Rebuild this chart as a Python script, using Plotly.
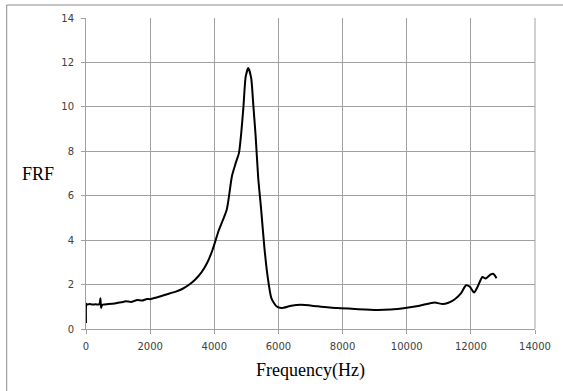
import plotly.graph_objects as go

# Measured frequency response function (magnitude) versus frequency
freq_hz = [0, 10, 40, 100, 200, 300, 400, 430, 450, 470, 490, 530, 700, 900, 1100,
           1240, 1400, 1600, 1750, 1900, 2000, 2200, 2500, 2800, 3000, 3200, 3400,
           3600, 3780, 3950, 4130, 4390, 4550, 4670, 4770, 4840, 4910, 4980, 5060,
           5150, 5220, 5290, 5370, 5460, 5560, 5660, 5780, 5940, 6090, 6400, 6700,
           7230, 7850, 8400, 9060, 9500, 10000, 10400, 10870, 11120, 11300, 11490,
           11690, 11850, 11970, 12100, 12210, 12360, 12460, 12620, 12690, 12740, 12800]
frf = [0.27, 1.14, 1.10, 1.12, 1.10, 1.11, 1.10, 1.18, 1.38, 0.95, 1.05, 1.10, 1.12,
       1.15, 1.20, 1.25, 1.22, 1.30, 1.28, 1.35, 1.34, 1.42, 1.55, 1.68, 1.80, 1.98,
       2.22, 2.55, 2.98, 3.58, 4.40, 5.38, 6.88, 7.48, 7.93, 8.82, 10.02, 11.37,
       11.75, 11.30, 10.02, 8.67, 6.80, 5.40, 3.70, 2.40, 1.39, 1.02, 0.94, 1.05,
       1.09, 1.02, 0.94, 0.90, 0.86, 0.88, 0.96, 1.05, 1.19, 1.12, 1.18, 1.33, 1.60,
       1.97, 1.90, 1.64, 1.90, 2.34, 2.27, 2.46, 2.49, 2.42, 2.28]

x_ticks = [0, 2000, 4000, 6000, 8000, 10000, 12000, 14000]
y_ticks = [0, 2, 4, 6, 8, 10, 12, 14]

fig = go.Figure()
fig.add_trace(go.Scatter(
    x=freq_hz, y=frf, mode="lines",
    line=dict(color="black", width=2, shape="spline", smoothing=0.6),
    hoverinfo="skip", showlegend=False,
))

grid = "#a0a0a0"
tick_font = dict(family="DejaVu Sans", size=10, color="#404040")
title_font = dict(family="Liberation Serif", size=18, color="black")

fig.update_layout(
    width=563, height=391,
    margin=dict(l=86, r=24, t=18, b=62),
    paper_bgcolor="white", plot_bgcolor="white",
    xaxis=dict(
        range=[0, 14000], tickvals=x_ticks, ticktext=[str(v) for v in x_ticks],
        showgrid=True, gridcolor=grid, gridwidth=1,
        showline=True, linecolor=grid, linewidth=1, mirror=False,
        ticks="outside", ticklen=4, tickcolor=grid, ticklabelstandoff=4,
        tickfont=tick_font, zeroline=False,
        title=dict(text="Frequency(Hz)", font=title_font, standoff=12),
    ),
    yaxis=dict(
        range=[0, 14], tickvals=y_ticks, ticktext=[str(v) for v in y_ticks],
        showgrid=True, gridcolor=grid, gridwidth=1,
        showline=True, linecolor=grid, linewidth=1,
        ticks="outside", ticklen=4, tickcolor=grid, ticklabelstandoff=5,
        tickfont=tick_font, zeroline=False, title=None,
    ),
)

# Vertical axis label, set horizontally beside the axis
fig.add_annotation(
    text="FRF", xref="paper", yref="paper",
    x=(38 - 86) / 453, y=(329 - 174) / 311,
    showarrow=False, font=title_font, xanchor="center", yanchor="middle",
)

# Frame around the chart (left and top edges)
pw, ph = 453, 311
fx0 = (6 - 86) / pw
fy_top = (329 - 5) / ph
fy_bot = (329 - 395) / ph
fx_right = (570 - 86) / pw
fig.add_shape(type="line", xref="paper", yref="paper",
              x0=fx0, x1=fx0, y0=fy_bot, y1=fy_top,
              line=dict(color="#8c8c8c", width=1))
fig.add_shape(type="line", xref="paper", yref="paper",
              x0=fx0, x1=fx_right, y0=fy_top, y1=fy_top,
              line=dict(color="#8c8c8c", width=1))
# Right gridline edge of the plot area
fig.add_shape(type="line", xref="paper", yref="paper",
              x0=1, x1=1, y0=0, y1=1, line=dict(color=grid, width=1))

fig.write_html("out.html")
